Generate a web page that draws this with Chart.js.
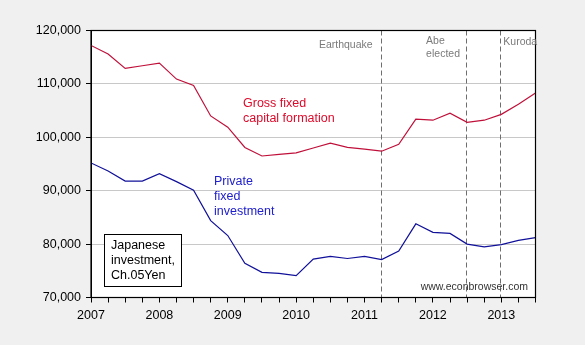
<!DOCTYPE html>
<html><head><meta charset="utf-8">
<script src="https://cdn.jsdelivr.net/npm/chart.js@4"></script>
<style>html,body{margin:0;padding:0;background:#f0f0f0;}canvas{display:block;}</style>
</head><body>
<canvas id="c" width="585" height="345"></canvas>
<script>
// Quarterly dates: 2007Q1 .. 2013Q3 (plotted at year + (q-1)/4)
const startYear = 2007;
const quarterCount = 27;
const grossFixedCapital = [117.2,115.6,112.9,113.4,113.9,110.9,109.7,104.0,101.9,98.1,96.5,96.8,97.1,98.0,98.9,98.1,97.8,97.4,98.7,103.4,103.2,104.5,102.8,103.2,104.3,106.2,108.3];
const privateFixedInvestment = [95.2,93.7,91.8,91.8,93.2,91.7,90.1,84.4,81.6,76.4,74.7,74.5,74.1,77.2,77.7,77.3,77.7,77.1,78.7,83.8,82.2,82.0,80.0,79.5,79.9,80.7,81.2];
const yTicks = [70000,80000,90000,100000,110000,120000];
const xTickYears = [2007,2008,2009,2010,2011,2012,2013];
const eventDates = [2011.25, 2012.5, 2013.0];
const eventLabels = [["Earthquake"], ["Abe","elected"], ["Kuroda"]];

const dates = [];
for (let i = 0; i < quarterCount; i++) dates.push(startYear + i / 4);
const toPts = arr => arr.map((v, i) => ({x: dates[i], y: v * 1000}));

const FONT = "'Liberation Sans', Arial, sans-serif";

const decor = {
  id: 'decor',
  beforeDraw(chart) {
    const {ctx, chartArea: a} = chart;
    ctx.save();
    ctx.fillStyle = '#f0f0f0';
    ctx.fillRect(0, 0, chart.width, chart.height);
    ctx.fillStyle = '#ffffff';
    ctx.fillRect(a.left, a.top, a.right - a.left, a.bottom - a.top);
    ctx.restore();
  },
  beforeDatasetsDraw(chart) {
    const {ctx, chartArea: a, scales} = chart;
    ctx.save();
    ctx.strokeStyle = '#6e6e6e';
    ctx.lineWidth = 1;
    ctx.setLineDash([5, 3]);
    eventDates.forEach(d => {
      const x = Math.round(scales.x.getPixelForValue(d)) - 0.5;
      ctx.beginPath(); ctx.moveTo(x, a.top); ctx.lineTo(x, a.bottom); ctx.stroke();
    });
    ctx.restore();
  },
  afterDraw(chart) {
    const {ctx, chartArea: a, scales} = chart;
    ctx.save();
    // frame
    ctx.strokeStyle = '#000'; ctx.lineWidth = 1.2;
    ctx.strokeRect(a.left, a.top, a.right - a.left, a.bottom - a.top);
    // event labels
    ctx.font = "10.5px " + FONT;
    ctx.fillStyle = '#7a7a7a';
    ctx.textBaseline = 'middle';
    const x0 = scales.x.getPixelForValue(eventDates[0]);
    ctx.textAlign = 'right';
    ctx.fillText(eventLabels[0][0], x0 - 9, a.top + 15);
    const x1 = scales.x.getPixelForValue(eventDates[1]);
    ctx.textAlign = 'left';
    ctx.fillText(eventLabels[1][0], x1 - 41, a.top + 11);
    ctx.fillText(eventLabels[1][1], x1 - 41, a.top + 24);
    const x2 = scales.x.getPixelForValue(eventDates[2]);
    ctx.fillText(eventLabels[2][0], x2 + 2, a.top + 12);
    // series labels
    ctx.font = "12.5px " + FONT;
    ctx.fillStyle = '#dd0a2a';
    ctx.fillText('Gross fixed', 243, 104);
    ctx.fillText('capital formation', 243, 119);
    ctx.fillStyle = '#2020cc';
    ctx.fillText('Private', 214, 182);
    ctx.fillText('fixed', 214, 197);
    ctx.fillText('investment', 214, 212);
    // box
    ctx.fillStyle = '#fff';
    ctx.fillRect(104.5, 234.5, 77, 52);
    ctx.strokeStyle = '#000'; ctx.lineWidth = 1;
    ctx.strokeRect(104.5, 234.5, 77, 52);
    ctx.fillStyle = '#000';
    ctx.font = "12.5px " + FONT;
    ctx.fillText('Japanese', 111, 246);
    ctx.fillText('investment,', 111, 261);
    ctx.fillText('Ch.05Yen', 111, 276);
    // source
    ctx.font = "10.5px " + FONT;
    ctx.fillStyle = '#333';
    ctx.textAlign = 'right';
    ctx.fillText('www.econbrowser.com', 528, 287);
    ctx.restore();
  }
};

new Chart(document.getElementById('c'), {
  type: 'line',
  data: {
    datasets: [
      {label: 'Gross fixed capital formation', data: toPts(grossFixedCapital), borderColor: '#c0103a', borderWidth: 1.2, pointRadius: 0, tension: 0},
      {label: 'Private fixed investment', data: toPts(privateFixedInvestment), borderColor: '#10109a', borderWidth: 1.2, pointRadius: 0, tension: 0}
    ]
  },
  options: {
    responsive: false,
    animation: false,
    events: [],
    layout: {padding: {top: 30.5, right: 49.5, left: 0, bottom: 0}},
    plugins: {legend: {display: false}, tooltip: {enabled: false}},
    scales: {
      x: {
        type: 'linear', min: 2007, max: 2013.5,
        afterFit(s) { s.height = 47.5; },
        afterBuildTicks(s) {
          const t = [];
          for (let v = 2007; v <= 2013.5 + 1e-9; v += 0.25) t.push({value: Math.round(v * 100) / 100});
          s.ticks = t;
        },
        ticks: {
          autoSkip: false, maxRotation: 0, padding: 6,
          color: '#000', font: {family: FONT, size: 12.5},
          callback: v => xTickYears.includes(v) ? String(v) : ''
        },
        grid: {drawOnChartArea: false, tickLength: 5, tickColor: '#000', tickWidth: 1},
        border: {color: '#000', width: 1}
      },
      y: {
        min: 70000, max: 120000,
        afterFit(s) { s.width = 91; },
        afterBuildTicks(s) { s.ticks = yTicks.map(v => ({value: v})); },
        ticks: {
          color: '#000', font: {family: FONT, size: 12.5}, padding: 5,
          callback: v => v.toLocaleString('en-US')
        },
        grid: {color: '#c8c8c8', tickColor: '#000', tickLength: 5, lineWidth: 1},
        border: {color: '#000', width: 1}
      }
    }
  },
  plugins: [decor]
});
</script>
</body></html>
